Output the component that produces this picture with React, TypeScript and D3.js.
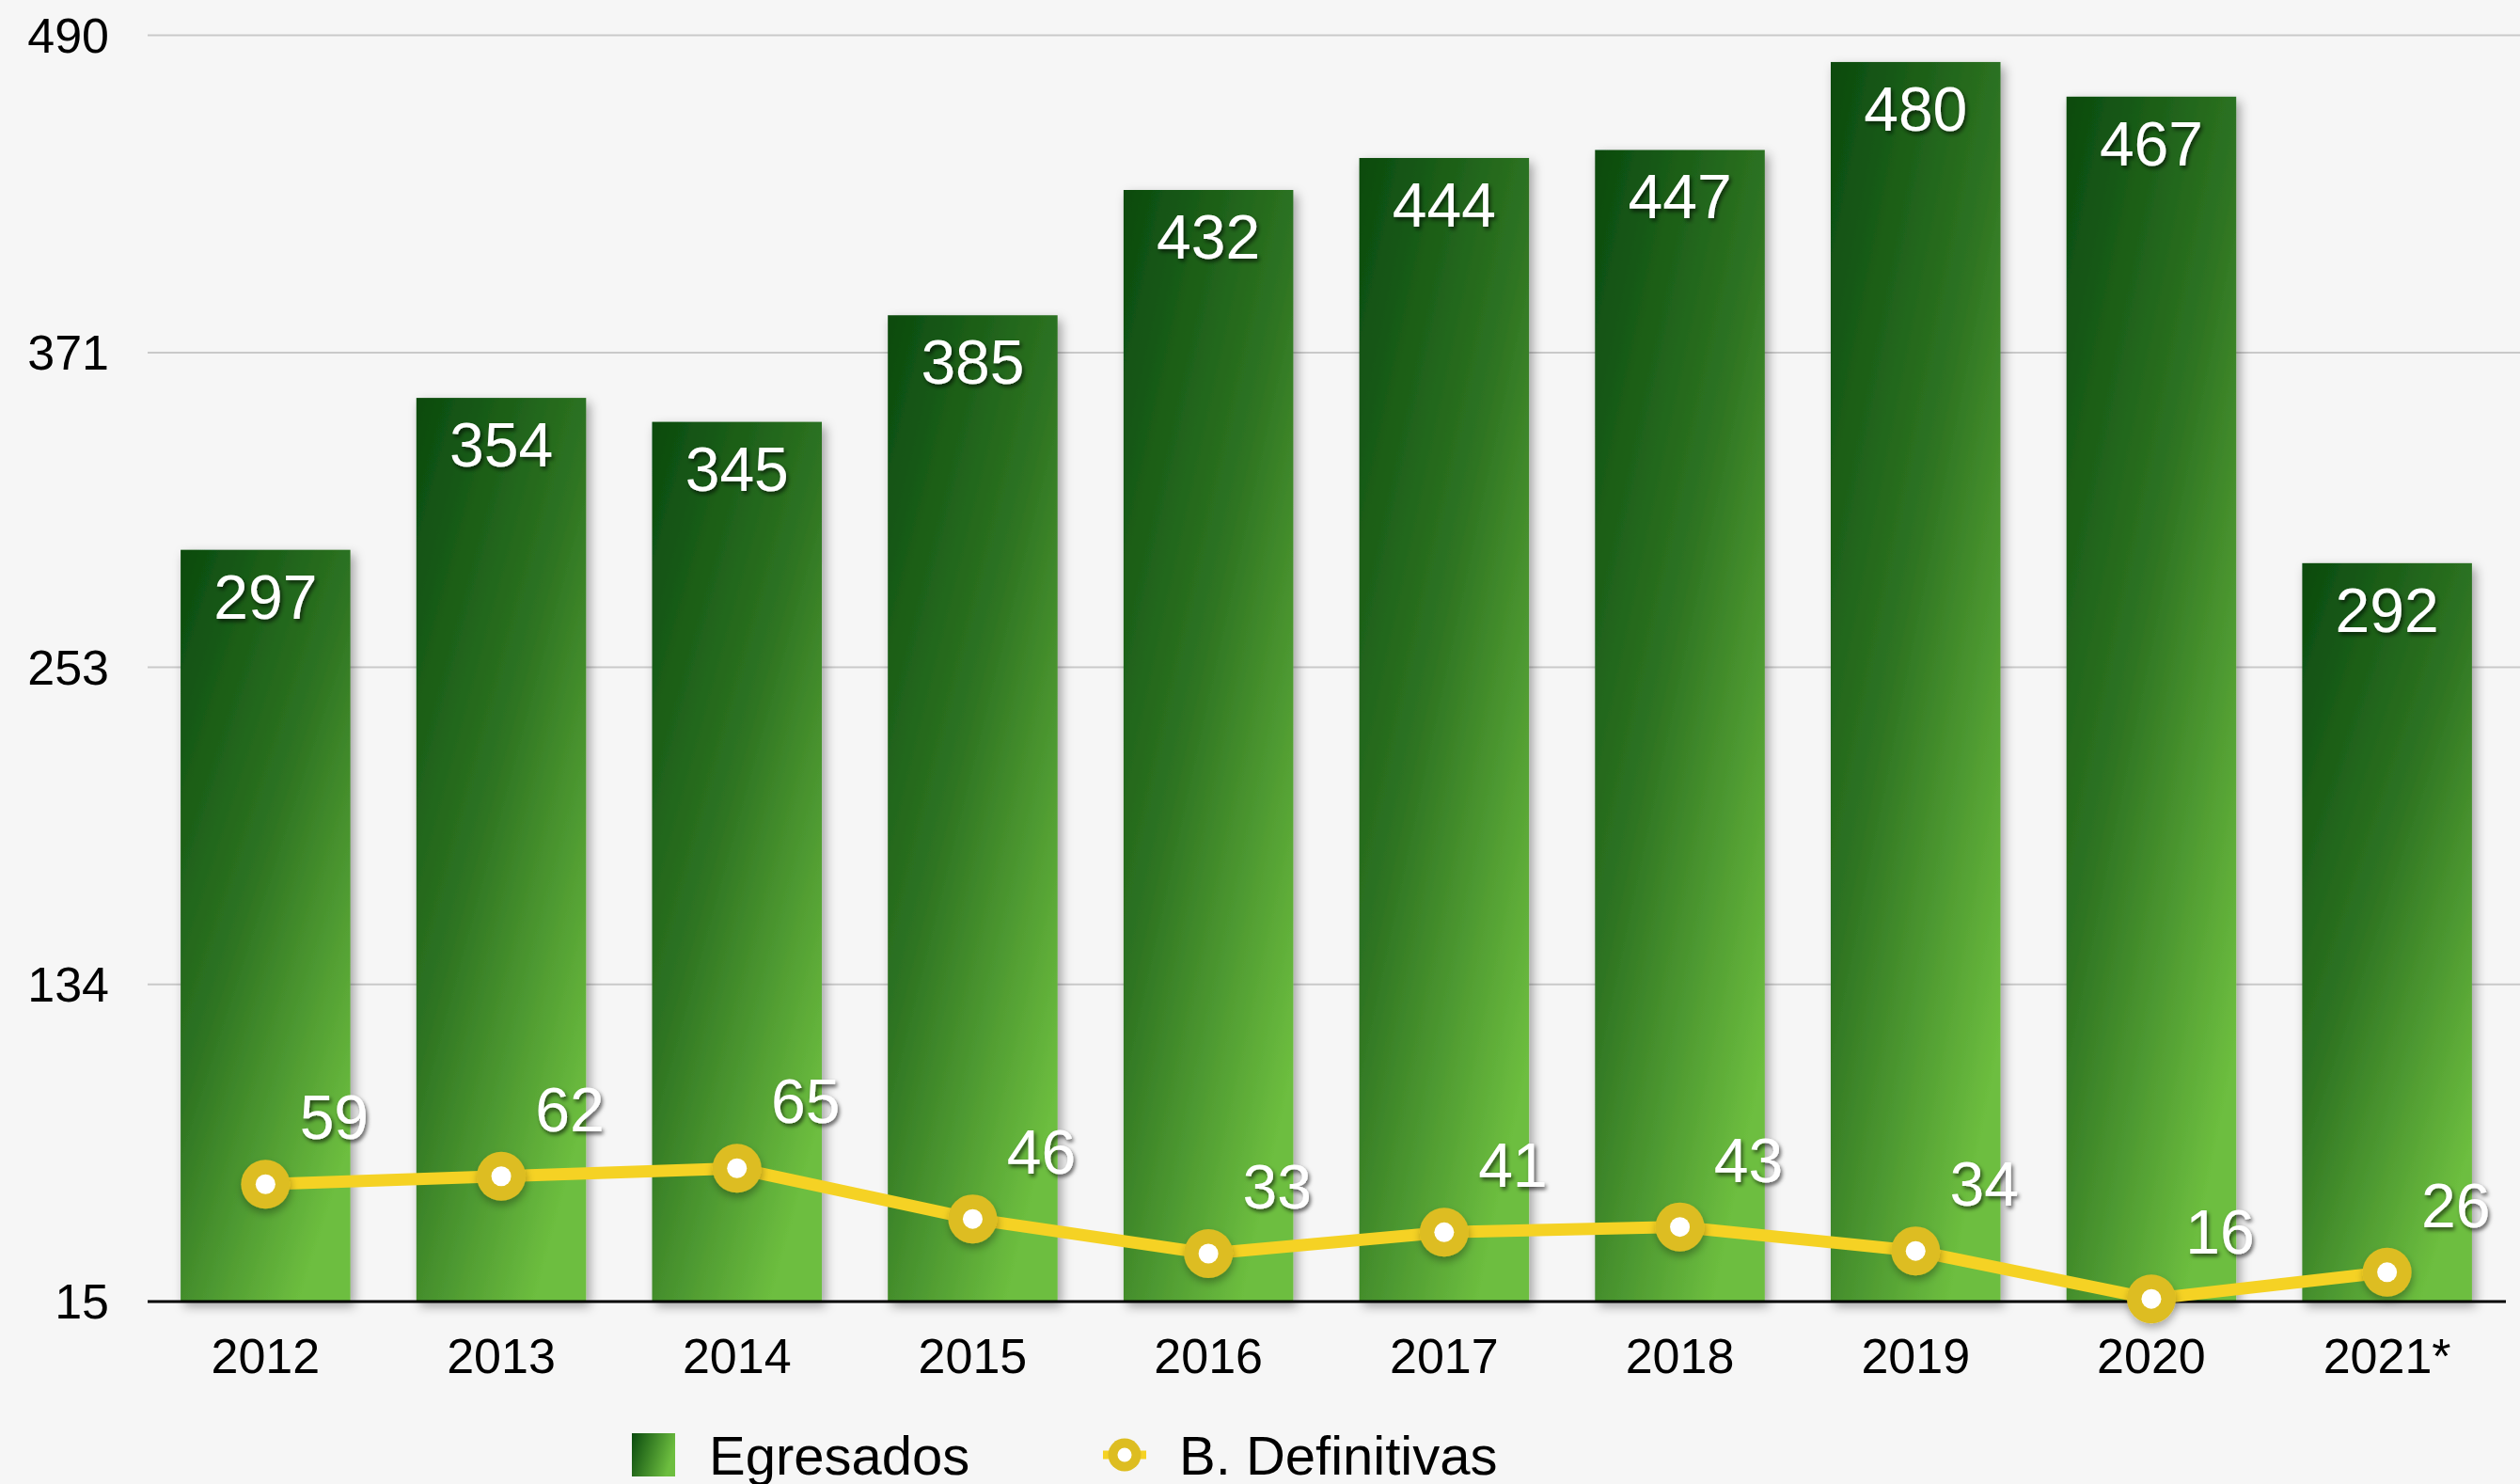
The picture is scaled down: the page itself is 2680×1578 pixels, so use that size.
import React from "react";
import * as d3 from "d3";

const categories = ["2012", "2013", "2014", "2015", "2016", "2017", "2018", "2019", "2020", "2021*"];
const egresados = [297, 354, 345, 385, 432, 444, 447, 480, 467, 292];
const bajas = [59, 62, 65, 46, 33, 41, 43, 34, 16, 26];
const yTicks = [15, 134, 253, 371, 490];
const yTickLabels = ["15", "134", "253", "371", "490"];
const seriesNames = ["Egresados", "B. Definitivas"];

const W = 2680;
const H = 1578;
const FONT = '"Helvetica Neue", Helvetica, "Liberation Sans", Arial, sans-serif';

export default function App() {
  const x = d3.scaleBand<string>().domain(categories).range([157, 2664]).paddingInner(0.28).paddingOuter(0.14);
  const y = d3.scaleLinear().domain([15, 490]).range([1384, 37.6]);
  const bw = x.bandwidth();
  const cx = (c: string) => (x(c) as number) + bw / 2;

  const linePath = d3
    .line<number>()
    .x((_, i) => cx(categories[i]))
    .y((d) => y(d))(bajas) as string;

  return (
    <svg width={W} height={H} style={{ position: "absolute", left: 0, top: 0, background: "#f6f6f6" }} fontFamily={FONT}>
      <defs>
        <linearGradient id="barGrad" x1="0" y1="0" x2="0.7" y2="1">
          <stop offset="0" stopColor="#0a4a0e" />
          <stop offset="0.5" stopColor="#2e7422" />
          <stop offset="1" stopColor="#6dbe3f" />
        </linearGradient>
        <linearGradient id="legGrad" x1="0" y1="0" x2="1" y2="0.3">
          <stop offset="0" stopColor="#0a4a0e" />
          <stop offset="1" stopColor="#6dbe3f" />
        </linearGradient>
        <filter id="barShadow" x="-20%" y="-10%" width="140%" height="120%">
          <feDropShadow dx="4" dy="5" stdDeviation="6" floodColor="#000" floodOpacity="0.35" />
        </filter>
        <filter id="ptShadow" x="-50%" y="-50%" width="200%" height="200%">
          <feDropShadow dx="1" dy="5" stdDeviation="4" floodColor="#000" floodOpacity="0.3" />
        </filter>
        <filter id="txtShadow" x="-20%" y="-20%" width="140%" height="160%">
          <feDropShadow dx="2" dy="3" stdDeviation="2" floodColor="#000" floodOpacity="0.6" />
        </filter>
      </defs>
      <rect x={0} y={0} width={W} height={H} fill="#f6f6f6" />

      {/* gridlines */}
      {yTicks.slice(1).map((t) => (
        <line key={t} x1={157} x2={W} y1={y(t)} y2={y(t)} stroke="#c9c9c9" strokeWidth={2} />
      ))}

      {/* y labels */}
      {yTicks.map((t, i) => (
        <text key={t} x={116} y={y(t)} dy="0.35em" textAnchor="end" fontSize={52} fill="#000">
          {yTickLabels[i]}
        </text>
      ))}

      {/* bars */}
      {categories.map((c, i) => (
        <rect
          key={c}
          x={x(c)}
          y={y(egresados[i])}
          width={bw}
          height={y(15) - y(egresados[i])}
          fill="url(#barGrad)"
          filter="url(#barShadow)"
        />
      ))}

      {/* baseline */}
      <line x1={157} x2={2665} y1={y(15)} y2={y(15)} stroke="#000" strokeWidth={3} />

      {/* bar labels */}
      {categories.map((c, i) => (
        <text
          key={c}
          x={cx(c)}
          y={y(egresados[i]) + 73}
          textAnchor="middle"
          fontSize={66}
          fill="#fff"
          filter="url(#txtShadow)"
        >
          {egresados[i]}
        </text>
      ))}

      {/* line */}
      <path d={linePath} fill="none" stroke="#f5d224" strokeWidth={13} strokeLinejoin="round" />
      {categories.map((c, i) => (
        <g key={c} filter="url(#ptShadow)">
          <circle cx={cx(c)} cy={y(bajas[i])} r={26} fill="#ddbd21" />
          <circle cx={cx(c)} cy={y(bajas[i])} r={10.5} fill="#fff" />
        </g>
      ))}
      {categories.map((c, i) => (
        <text
          key={c}
          x={cx(c) + 73}
          y={y(bajas[i]) - 48}
          textAnchor="middle"
          fontSize={66}
          fill="#fff"
          filter="url(#txtShadow)"
        >
          {bajas[i]}
        </text>
      ))}

      {/* x labels */}
      {categories.map((c) => (
        <text key={c} x={cx(c)} y={1460} textAnchor="middle" fontSize={52} fill="#000">
          {c}
        </text>
      ))}

      {/* legend */}
      <rect x={672} y={1524} width={46} height={46} fill="url(#legGrad)" />
      <text x={754} y={1568} fontSize={58} fill="#000">
        {seriesNames[0]}
      </text>
      <line x1={1173} x2={1219} y1={1547} y2={1547} stroke="#f5d224" strokeWidth={9} />
      <circle cx={1196} cy={1547} r={17.5} fill="#ddbd21" />
      <circle cx={1196} cy={1547} r={7.5} fill="#fff" />
      <text x={1254} y={1568} fontSize={58} fill="#000">
        {seriesNames[1]}
      </text>
    </svg>
  );
}
